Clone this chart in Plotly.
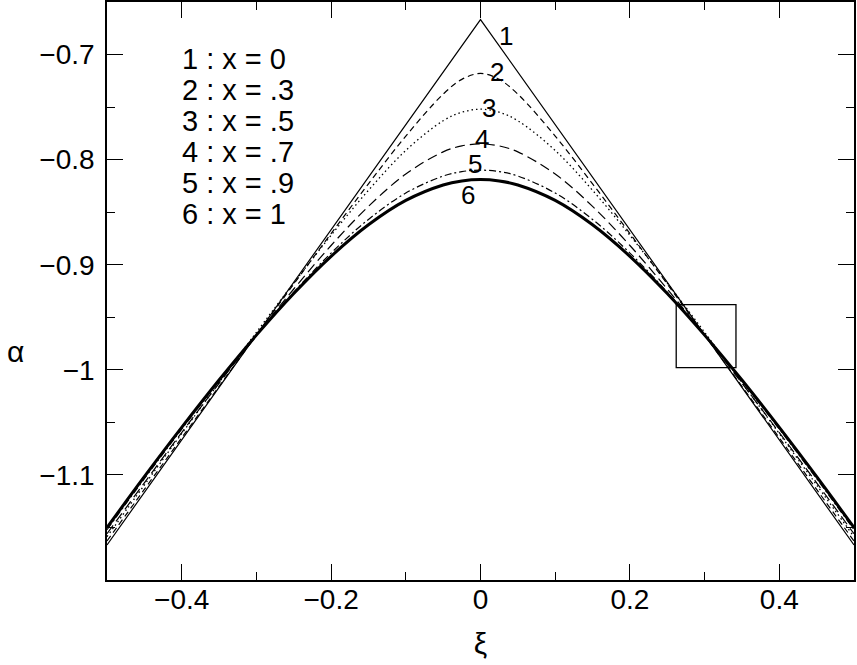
import plotly.graph_objects as go

# xi grid shared by the smooth curves
XI = [-0.5, -0.45, -0.4, -0.35, -0.3, -0.25, -0.2, -0.15, -0.1, -0.05, -0.025,
      0.0, 0.025, 0.05, 0.1, 0.15, 0.2, 0.25, 0.3, 0.35, 0.4, 0.45, 0.5]

# curve 1 (x = 0) is a straight-sided cusp
XI_1 = [-0.5, 0.0, 0.5]
ALPHA_1 = [-1.1667, -0.6667, -1.1667]


def _sym(half):
    # half = values at xi = 0, .025, .05, .1 ... .5 (curves are symmetric)
    return half[:0:-1] + half


ALPHA_2 = _sym([-0.718, -0.7236, -0.7377, -0.7776, -0.8230, -0.8703,
                -0.9184, -0.9670, -1.0158, -1.0647, -1.1138, -1.1629])
ALPHA_3 = _sym([-0.752, -0.7549, -0.7630, -0.7913, -0.8292, -0.8720,
                -0.9174, -0.9643, -1.0122, -1.0607, -1.1096, -1.1588])
ALPHA_4 = _sym([-0.785, -0.7869, -0.7926, -0.8137, -0.8445, -0.8817,
                -0.9231, -0.9670, -1.0128, -1.0597, -1.1075, -1.1560])
ALPHA_5 = _sym([-0.810, -0.8114, -0.8156, -0.8318, -0.8569, -0.8889,
                -0.9261, -0.9670, -1.0107, -1.0564, -1.1036, -1.1521])
ALPHA_6 = _sym([-0.819, -0.8203, -0.8241, -0.8388, -0.8620, -0.8920,
                -0.9274, -0.9670, -1.0097, -1.0548, -1.1017, -1.1501])

LEGEND_LINES = ["1 : x = 0", "2 : x = .3", "3 : x = .5",
                "4 : x = .7", "5 : x = .9", "6 : x = 1"]

# curve number labels near each peak: (xi, alpha)
LABEL_POS = [(0.034, -0.682), (0.022, -0.717), (0.011, -0.751),
             (0.002, -0.7805), (-0.008, -0.804), (-0.017, -0.834)]

BOX = dict(x0=0.262, x1=0.342, y0=-0.998, y1=-0.938)

FONT = "Liberation Sans, Arial, sans-serif"
INK = "black"

fig = go.Figure()

fig.add_trace(go.Scatter(x=XI_1, y=ALPHA_1, mode="lines",
                         line=dict(color=INK, width=1.2), hoverinfo="skip"))
styles = [
    (ALPHA_2, dict(width=1.2, dash="6px,4px")),
    (ALPHA_3, dict(width=1.3, dash="1.5px,3px")),
    (ALPHA_4, dict(width=1.2, dash="10px,5px")),
    (ALPHA_5, dict(width=1.2, dash="7px,3px,2px,3px")),
    (ALPHA_6, dict(width=3)),
]
for ys, ln in styles:
    fig.add_trace(go.Scatter(x=XI, y=ys, mode="lines", hoverinfo="skip",
                             line=dict(color=INK, shape="spline", **ln)))

annotations = []
for i, (lx, ly) in enumerate(LABEL_POS):
    annotations.append(dict(x=lx, y=ly, xref="x", yref="y", text=str(i + 1),
                            showarrow=False, font=dict(size=26, color=INK)))
for i, t in enumerate(LEGEND_LINES):
    annotations.append(dict(x=-0.402, y=-0.704 - 0.0295 * i, xref="x", yref="y",
                            text=t, xanchor="left", showarrow=False,
                            font=dict(size=29, color=INK)))
# y-axis title sits below the middle in the reference
annotations.append(dict(x=-0.137, y=0.396, xref="paper", yref="paper",
                        text="α", showarrow=False, font=dict(size=30, color=INK)))

fig.update_layout(
    width=857, height=665,
    paper_bgcolor="white", plot_bgcolor="white",
    showlegend=False,
    margin=dict(l=107, r=3, t=2, b=85),
    font=dict(family=FONT, size=28, color=INK),
    annotations=annotations,
    shapes=[dict(type="rect", xref="x", yref="y", line=dict(color=INK, width=1.3),
                 **BOX)],
    xaxis=dict(
        range=[-0.5, 0.5], tickvals=[-0.4, -0.2, 0, 0.2, 0.4],
        ticks="inside", ticklen=16, tickwidth=1.3, tickcolor=INK,
        ticklabelstandoff=-6,
        minor=dict(dtick=0.1, tick0=0, ticks="inside", ticklen=8,
                   tickwidth=1.3, tickcolor=INK),
        showline=True, linecolor=INK, linewidth=1.5, mirror="ticks",
        showgrid=False, zeroline=False, automargin=False,
        title=dict(text="ξ", font=dict(size=30), standoff=19),
    ),
    yaxis=dict(
        range=[-1.2, -0.65], tickvals=[-1.1, -1.0, -0.9, -0.8, -0.7],
        ticks="inside", ticklen=16, tickwidth=1.3, tickcolor=INK,
        ticklabelstandoff=5,
        minor=dict(dtick=0.05, tick0=0, ticks="inside", ticklen=8,
                   tickwidth=1.3, tickcolor=INK),
        showline=True, linecolor=INK, linewidth=1.5, mirror="ticks",
        showgrid=False, zeroline=False, automargin=False,
    ),
)

fig.write_html("out.html", config={"displayModeBar": False},
               post_script="document.body.style.margin='0';")
